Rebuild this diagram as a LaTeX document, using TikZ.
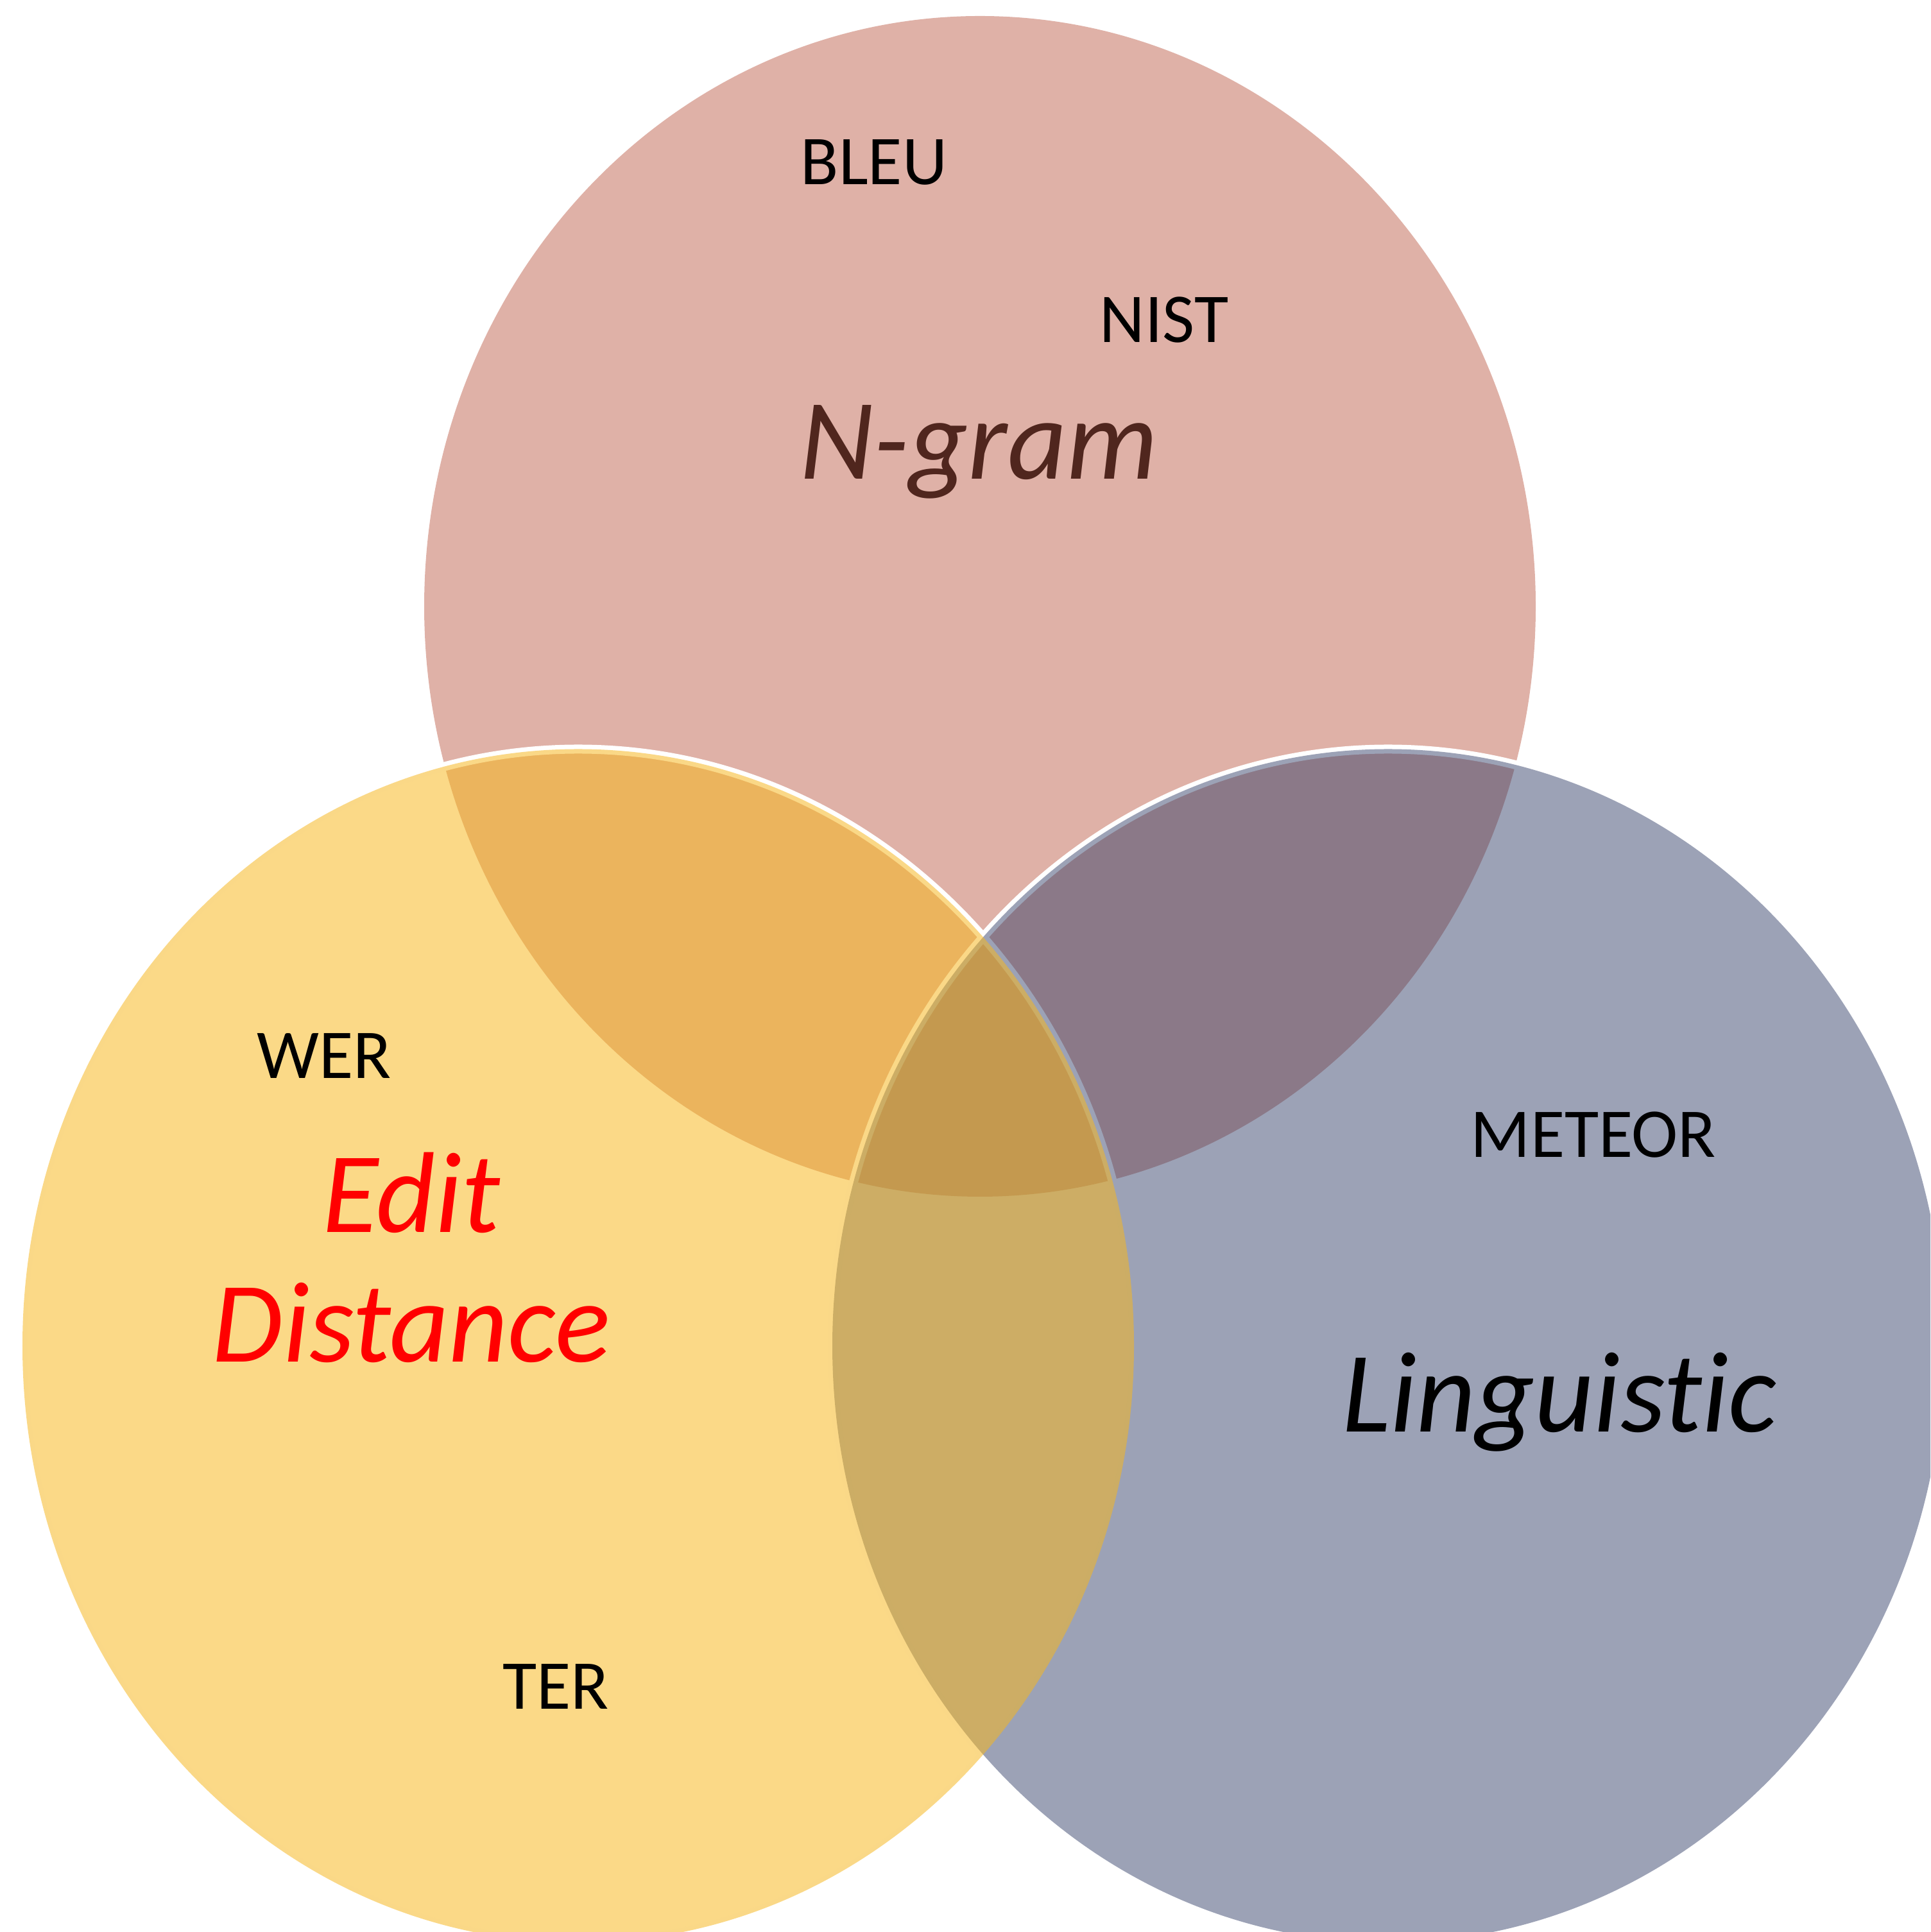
\documentclass[tikz,border=0pt]{standalone}
\usepackage{fontspec}
\setmainfont{Carlito}[Ligatures=NoCommon]
\usetikzlibrary{calc}

\definecolor{ngramfill}{RGB}{223,177,167}
\definecolor{editfill}{RGB}{247,183,29}
\definecolor{lingfill}{RGB}{49,61,103}
\definecolor{ngramtext}{RGB}{80,38,30}

\begin{document}
\begin{tikzpicture}[
    metric/.style={anchor=base, inner sep=0pt, font=\fontsize{31}{37}\selectfont},
    family/.style={anchor=base, inner sep=0pt, font=\fontsize{51}{59}\selectfont\itshape},
    rim/.style={draw=white, line width=0.14cm},
    lower/.style={x radius=8.66, y radius=9.3}
  ]
    \useasboundingbox (0,0) rectangle (30.08,30.11);
    \clip (0,0) rectangle (30.08,30.11);

    % the three sets
    \coordinate (ctop) at (15.27,20.66);
    \coordinate (cleft) at (9.01,9.135);
    \coordinate (cright) at (21.63,9.135);
    \fill [ngramfill] (ctop) ellipse [x radius=8.66, y radius=9.2];
    \draw [rim] (cright) ellipse [lower];
    \draw [rim] (cleft) ellipse [lower];
    \fill [lingfill, fill opacity=0.48] (cright) ellipse [lower];
    \fill [editfill, fill opacity=0.53] (cleft) ellipse [lower];

    % labels
    \node [metric] (bleu) at (13.62,27.23) {BLEU};
    \node [metric] (nist) at (18.14,24.77) {NIST};
    \node [family, text=ngramtext] (ngram) at (15.25,22.64) {N-gram};
    \node [metric] (wer) at (5.05,13.30) {WER};
    \node [family, text=red] (edit) at (6.41,10.90) {Edit};
    \node [family, text=red] (distance) at (6.41,8.88) {Distance};
    \node [metric] (ter) at (8.66,3.47) {TER};
    \node [metric] (meteor) at (24.83,12.07) {METEOR};
    \node [family] (ling) at (24.30,7.79) {Linguistic};
\end{tikzpicture}
\end{document}
